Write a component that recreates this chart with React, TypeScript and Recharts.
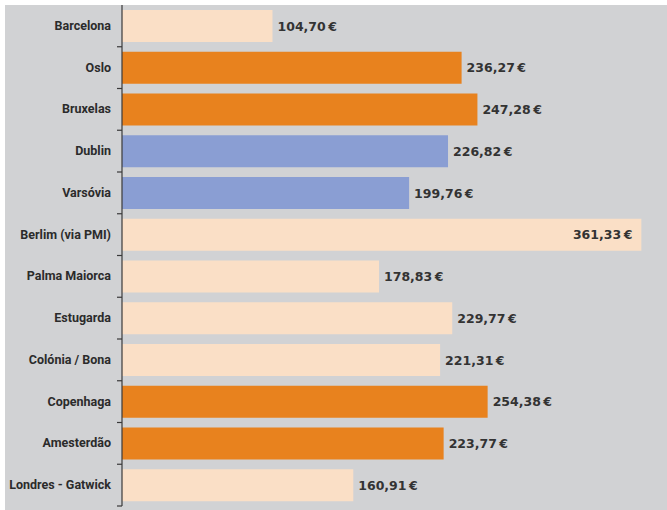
import { BarChart, Bar, XAxis, YAxis, Cell, LabelList } from "recharts";

const cities = [
  "Barcelona", "Oslo", "Bruxelas", "Dublin", "Varsóvia", "Berlim (via PMI)",
  "Palma Maiorca", "Estugarda", "Colónia / Bona", "Copenhaga", "Amesterdão", "Londres - Gatwick",
];
const prices = [104.7, 236.27, 247.28, 226.82, 199.76, 361.33, 178.83, 229.77, 221.31, 254.38, 223.77, 160.91];
const groups = ["base", "orange", "orange", "blue", "blue", "base", "base", "base", "base", "orange", "orange", "base"];

const palette: Record<string, string> = {
  base: "#FADFC6",
  orange: "#E8821E",
  blue: "#8A9ED3",
};

const data = cities.map((city, i) => ({ city, price: prices[i], group: groups[i] }));

const fmt = (v: number) => v.toFixed(2).replace(".", ",") + "\u2009€";

const BAND = 501 / cities.length;

// recharts hands the tick x already shifted left by tickSize + tickMargin (6 + 2)
function CityTick(props: any) {
  const { x, y, payload } = props;
  const axisX = x + 8;
  return (
    <g>
      <text
        x={axisX - 11}
        y={y}
        dy={4}
        textAnchor="end"
        fill="#2b2b2b"
        fontFamily="Roboto"
        fontWeight={700}
        fontSize={12.5}
      >
        {payload.value}
      </text>
      <line x1={axisX - 5} x2={axisX} y1={y + BAND / 2} y2={y + BAND / 2} stroke="#3a3a3a" strokeWidth={1.2} />
    </g>
  );
}

function PriceLabel(props: any) {
  const { x, y, width, height, value } = props;
  const inside = value > 300;
  return (
    <text
      x={inside ? x + width - 9 : x + width + 5}
      y={y + height / 2}
      dy={4.5}
      textAnchor={inside ? "end" : "start"}
      fill="#333"
      fontFamily="DejaVu Sans"
      fontWeight={700}
      fontSize={12.5}
    >
      {fmt(value)}
    </text>
  );
}

export default function App() {
  return (
    <div style={{ position: "fixed", left: 0, top: 0, width: 667, height: 510, background: "#fff" }}>
      <div style={{ position: "absolute", left: 5, top: 5, width: 662, height: 505, background: "#D1D2D4" }}>
        <BarChart
          width={662}
          height={505}
          data={data}
          layout="vertical"
          margin={{ top: 0, right: 6, bottom: 4, left: 0 }}
        >
          <XAxis type="number" domain={[0, 375]} hide />
          <YAxis
            type="category"
            dataKey="city"
            width={117}
            interval={0}
            tickLine={false}
            axisLine={{ stroke: "#3a3a3a", strokeWidth: 1.2 }}
            tick={<CityTick />}
          />
          <Bar dataKey="price" barSize={32} isAnimationActive={false}>
            {data.map((d) => (
              <Cell key={d.city} fill={palette[d.group]} />
            ))}
            <LabelList dataKey="price" content={<PriceLabel />} />
          </Bar>
        </BarChart>
      </div>
    </div>
  );
}
